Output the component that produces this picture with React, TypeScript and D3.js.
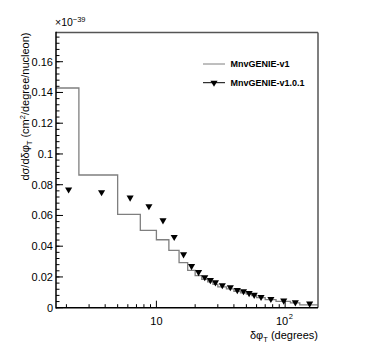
import React from "react";
import * as d3 from "d3";

const binEdges = [1.66, 2.5, 5, 7.5, 10, 12.5, 15, 17.5, 20, 22.5, 25, 27.5, 30, 35, 40, 45, 50, 55, 60, 70, 85, 110, 130, 180];
const v1Values = [0.1429, 0.0863, 0.0607, 0.0503, 0.0442, 0.0373, 0.0293, 0.0243, 0.0208, 0.0185, 0.0168, 0.0152, 0.0135, 0.0122, 0.0107, 0.0097, 0.0088, 0.0078, 0.0066, 0.0053, 0.0041, 0.0031, 0.0019];
const v101Values = [0.0769, 0.0751, 0.0716, 0.0660, 0.0568, 0.0460, 0.0347, 0.0271, 0.0232, 0.0198, 0.0180, 0.0165, 0.0146, 0.0133, 0.0115, 0.0107, 0.0095, 0.0084, 0.0070, 0.0057, 0.0046, 0.0035, 0.0027];
const yTicks = [0, 0.02, 0.04, 0.06, 0.08, 0.1, 0.12, 0.14, 0.16];
const yTickLabels = ["0", "0.02", "0.04", "0.06", "0.08", "0.1", "0.12", "0.14", "0.16"];
const xMinorTicks = [2, 3, 4, 5, 6, 7, 8, 9, 20, 30, 40, 50, 60, 70, 80, 90];
const xMajorTicks = [10, 100];
const seriesNames = ["MnvGENIE-v1", "MnvGENIE-v1.0.1"];

const W = 374, H = 363;
const L = 56, R = 318, T = 32.5, B = 307.7;
const FONT = "Liberation Sans, Arial, Helvetica, sans-serif";

export default function App() {
  const x = d3.scaleLog().domain([binEdges[0], binEdges[binEdges.length - 1]]).range([L, R]);
  const y = d3.scaleLinear().domain([0, 0.179]).range([B, T]);

  const histPts: [number, number][] = v1Values.map((v, i) => [binEdges[i], v]);
  histPts.push([binEdges[binEdges.length - 1], v1Values[v1Values.length - 1]]);
  const histLine = d3.line<[number, number]>().x(d => x(d[0])).y(d => y(d[1])).curve(d3.curveStepAfter);

  const centers = v101Values.map((_, i) => (binEdges[i] + binEdges[i + 1]) / 2);
  const tri = d3.symbol().type(d3.symbolTriangle).size(22)()!;

  const yMinor = d3.range(0, 0.1791, 0.004);

  return (
    <svg width={W} height={H} style={{ position: "absolute", left: 0, top: 0, background: "#fff" }} fontFamily={FONT}>
      <rect x={0} y={0} width={W} height={H} fill="#fff" />
      {/* histogram v1 */}
      <path d={histLine(histPts)!} fill="none" stroke="#7f7f7f" strokeWidth={1.3} />
      {/* markers v1.0.1 */}
      {v101Values.map((v, i) => (
        <path key={i} d={tri} transform={`translate(${x(centers[i])},${y(v)}) rotate(180)`} fill="#000" />
      ))}
      {/* frame */}
      <line x1={L} x2={R} y1={T} y2={T} stroke="#555" strokeWidth={1.5} />
      <line x1={R} x2={R} y1={T} y2={B} stroke="#555" strokeWidth={1.5} />
      <line x1={L} x2={L} y1={T - 0.7} y2={B + 0.7} stroke="#000" strokeWidth={1.5} />
      <line x1={L} x2={R} y1={B} y2={B} stroke="#000" strokeWidth={1.5} />
      {/* y ticks */}
      {yMinor.map((t, i) => (
        <line key={"ym" + i} x1={L} x2={L + 3.5} y1={y(t)} y2={y(t)} stroke="#000" strokeWidth={1} />
      ))}
      {yTicks.map((t, i) => (
        <g key={"yt" + i}>
          <line x1={L} x2={L + 7} y1={y(t)} y2={y(t)} stroke="#000" strokeWidth={1} />
          <text x={L - 3} y={y(t)} dy="0.35em" textAnchor="end" fontSize={11} fill="#000">{yTickLabels[i]}</text>
        </g>
      ))}
      {/* x ticks */}
      {xMinorTicks.map((t, i) => (
        <line key={"xm" + i} x1={x(t)} x2={x(t)} y1={B} y2={B - 3.5} stroke="#000" strokeWidth={1} />
      ))}
      {xMajorTicks.map((t, i) => (
        <line key={"xM" + i} x1={x(t)} x2={x(t)} y1={B} y2={B - 7} stroke="#000" strokeWidth={1} />
      ))}
      <text x={x(10)} y={324.5} textAnchor="middle" fontSize={11} fill="#000">10</text>
      <text x={x(100) - 3} y={324.5} textAnchor="middle" fontSize={11} fill="#000">10</text>
      <text x={x(100) + 3.5} y={318.5} textAnchor="start" fontSize={7.5} fill="#000">2</text>
      {/* x title */}
      <text x={R} y={338.5} textAnchor="end" fontSize={11} fill="#000">
        δφ<tspan fontSize={7.5} dy={3}>T</tspan><tspan dy={-3}> (degrees)</tspan>
      </text>
      {/* y title */}
      <text transform={`translate(28.5,${T}) rotate(-90)`} textAnchor="end" fontSize={11} fill="#000">
        dσ/dδφ<tspan fontSize={7.5} dy={3}>T</tspan><tspan dy={-3}> (cm</tspan><tspan fontSize={7.5} dy={-4}>2</tspan><tspan dy={4}>/degree/nucleon)</tspan>
      </text>
      {/* exponent */}
      <text x={L - 1} y={26} fontSize={10.5} fill="#000">
        ×10<tspan fontSize={7.5} dy={-4}>−39</tspan>
      </text>
      {/* legend */}
      <line x1={203} x2={225} y1={64} y2={64} stroke="#7f7f7f" strokeWidth={1} />
      <text x={230.5} y={64} dy="0.35em" fontSize={9} fontWeight="bold" fill="#000">{seriesNames[0]}</text>
      <line x1={203} x2={225} y1={82.7} y2={82.7} stroke="#000" strokeWidth={1} />
      <path d={tri} transform={`translate(214,82.7) rotate(180)`} fill="#000" />
      <text x={230.5} y={82.7} dy="0.35em" fontSize={9} fontWeight="bold" fill="#000">{seriesNames[1]}</text>
    </svg>
  );
}
